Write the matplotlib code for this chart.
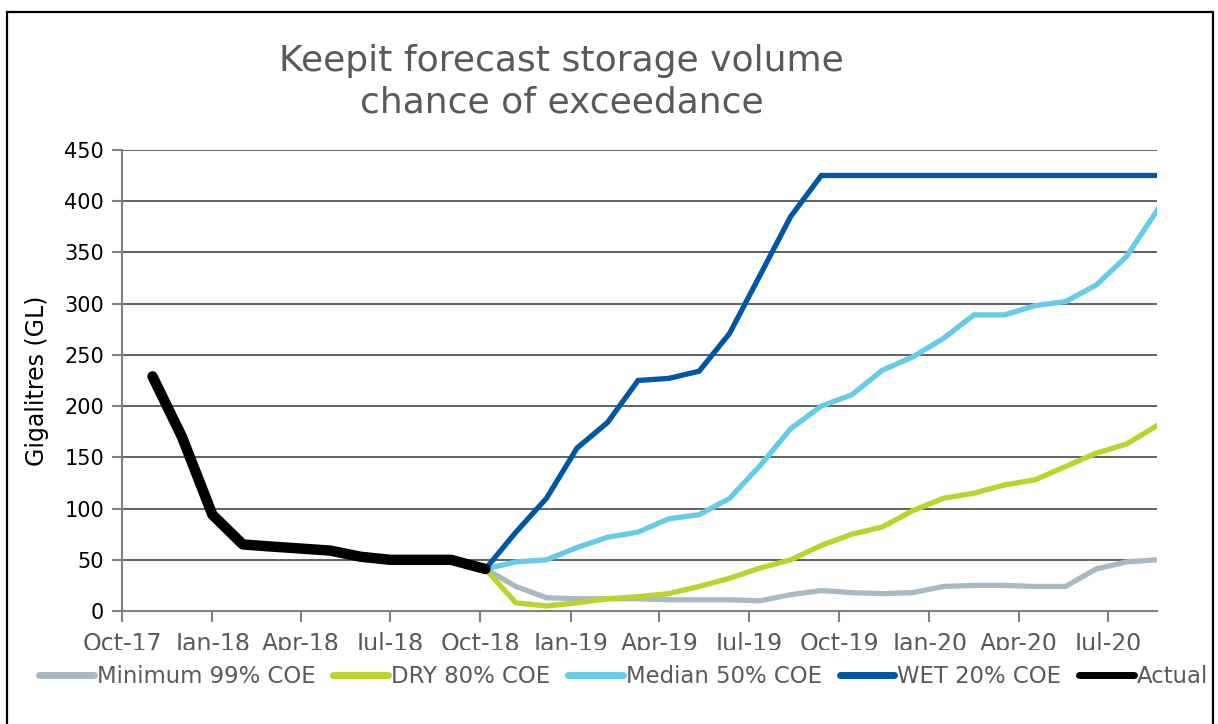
import numpy as np
import pandas as pd
import matplotlib
matplotlib.use("Agg")
import matplotlib.pyplot as plt
import matplotlib.dates as mdates
from matplotlib.patches import Rectangle
from matplotlib.transforms import Bbox, TransformedBbox

plt.rcParams['font.family'] = ['DejaVu Sans']

# données : niveau observé (mensuel) puis prévisions
actual_dates = ['2017-11-01', '2017-12-01', '2018-01-01', '2018-02-01', '2018-03-01',
                '2018-04-01', '2018-05-01', '2018-06-01', '2018-07-01', '2018-08-01',
                '2018-09-01', '2018-10-06']
actual = [229, 170, 94, 65, 63, 61, 59, 53, 50, 50, 50, 41]

forecast_start = '2018-10-06'
forecast_end = '2020-08-20'
n_forecast = 23

minimum_99 = [41, 24, 13, 12, 12, 12, 11, 11, 11, 10, 16, 20, 18,
              17, 18, 24, 25, 25, 24, 24, 41, 48, 50]
dry_80 = [41, 8, 5, 8, 12, 14, 17, 24, 32, 42, 50, 64, 75,
          82, 98, 110, 115, 123, 128, 141, 154, 163, 181]
median_50 = [41, 48, 50, 62, 72, 77, 90, 94, 110, 142, 178, 200, 211,
             235, 248, 266, 289, 289, 298, 302, 318, 346, 391]
wet_20 = [41, 77, 110, 159, 184, 225, 227, 234, 271, 328, 385, 425, 425,
          425, 425, 425, 425, 425, 425, 425, 425, 425, 425]

labels = ["Minimum 99% COE", "DRY 80% COE", "Median 50% COE", "WET 20% COE", "Actual"]
colors = ["#A9B9C3", "#BDD22B", "#66CBE8", "#0055A5", "#000000"]

x_act = pd.to_datetime(actual_dates)
x_fc = pd.date_range(forecast_start, forecast_end, periods=n_forecast)

fig = plt.figure(figsize=(12.18, 7.24), dpi=100)
fig.patch.set_facecolor('white')
ax = fig.add_axes([0.1002, 0.156, 0.8498, 0.637])

series = [minimum_99, dry_80, median_50, wet_20]
for y, lab, c in zip(series, labels[:4], colors[:4]):
    ax.plot(x_fc, y, color=c, lw=3.8, label=lab, solid_joinstyle='miter')
ax.plot(x_act, actual, color=colors[4], lw=7.5, label=labels[4],
        solid_capstyle='round', solid_joinstyle='round')

ax.set_xlim(pd.Timestamp('2017-10-01'), pd.Timestamp(forecast_end))
ax.set_ylim(0, 450)
ax.set_yticks(np.arange(0, 451, 50))
ax.xaxis.set_major_locator(mdates.MonthLocator(bymonth=[1, 4, 7, 10]))
ax.xaxis.set_major_formatter(mdates.DateFormatter('%b-%y'))

ax.grid(axis='y', color='#555555', lw=1.3)
ax.set_axisbelow(True)
for s in ['top', 'right']:
    ax.spines[s].set_visible(False)
for s in ['left', 'bottom']:
    ax.spines[s].set_color('#808080')
    ax.spines[s].set_linewidth(1.5)
ax.tick_params(axis='y', length=7, width=1.5, color='#808080', labelsize=15,
               labelcolor='black', pad=6)
ax.tick_params(axis='x', length=8, width=1.5, color='#808080', labelsize=17,
               labelcolor='#595959', pad=7)

ax.set_ylabel("Gigalitres (GL)", fontsize=17, color='black')
ax.yaxis.set_label_coords(-0.071, 0.5)

fig.text(0.461, 0.887, "Keepit forecast storage volume\nchance of exceedance",
         ha='center', va='center', fontsize=26, color='#595959', linespacing=1.3)

# légende
leg = fig.legend(loc='center', bbox_to_anchor=(0.512, 0.066), ncol=5, frameon=False,
                 fontsize=16.4, handlelength=2.4, handletextpad=0.12, columnspacing=0.8)
for t in leg.get_texts():
    t.set_color('#595959')
for h in leg.get_lines():
    h.set_linewidth(5)
    h.set_solid_capstyle('round')

# étiquettes de l'axe x coupées en bas comme dans l'original
clip = TransformedBbox(Bbox([[0, 0.102], [1, 1]]), fig.transFigure)
for t in ax.get_xticklabels():
    t.set_clip_box(clip)
    t.set_clip_on(True)

# cadre
fig.patches.append(Rectangle((0.006, -0.05), 0.99, 1.034, transform=fig.transFigure,
                             fill=False, edgecolor='black', lw=1.6))

fig.savefig("out.png", dpi=100)
